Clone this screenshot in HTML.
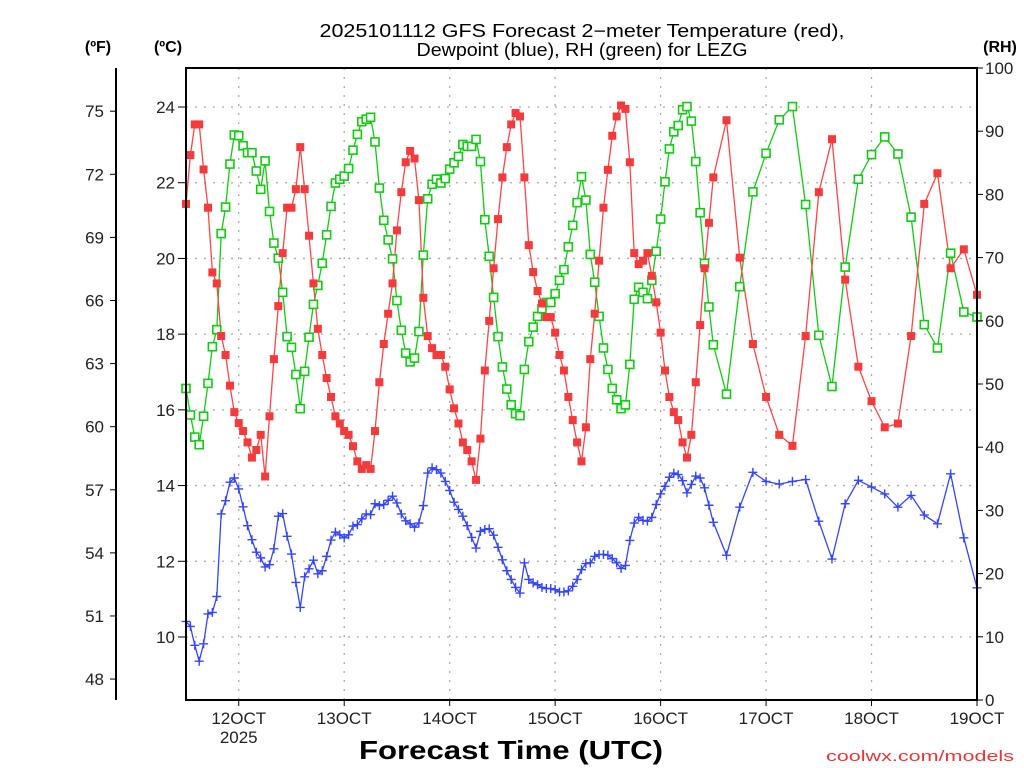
<!DOCTYPE html>
<html><head><meta charset="utf-8"><style>
html,body{margin:0;padding:0;background:#fff;}
svg{display:block;font-family:"Liberation Sans",sans-serif;}
</style></head><body>
<svg id="chart" width="1024" height="768" viewBox="0 0 1024 768" xmlns="http://www.w3.org/2000/svg">
<text x="582" y="37" font-size="18" text-anchor="middle" textLength="525" lengthAdjust="spacingAndGlyphs">2025101112 GFS Forecast 2−meter Temperature (red),</text>
<text x="582" y="56" font-size="18" text-anchor="middle" textLength="331" lengthAdjust="spacingAndGlyphs">Dewpoint (blue), RH (green) for LEZG</text>
<text x="98" y="52" font-size="16" font-weight="bold" text-anchor="middle">(ºF)</text>
<text x="168" y="52" font-size="16" font-weight="bold" text-anchor="middle">(ºC)</text>
<text x="1000" y="52" font-size="16" font-weight="bold" text-anchor="middle">(RH)</text>
<text x="511" y="759" font-size="26" font-weight="bold" text-anchor="middle" textLength="304" lengthAdjust="spacingAndGlyphs">Forecast Time (UTC)</text>
<text x="1014" y="761" font-size="15" fill="#ee3333" text-anchor="end" textLength="188" lengthAdjust="spacingAndGlyphs">coolwx.com/models</text>
<g id="grid"></g>
<g id="series"></g>
<g id="axes"></g>
</svg>
<script>
// hours since model start: hourly 0..120, then 3-hourly to 180
const hours = [];
for (let h = 0; h <= 120; h++) hours.push(h);
for (let h = 123; h <= 180; h += 3) hours.push(h);

const temperatureC = [21.44,22.73,23.54,23.54,22.35,21.34,19.63,19.34,17.95,17.45,16.64,15.94,15.65,15.44,15.14,14.74,14.94,15.34,14.24,15.83,17.34,18.74,20.14,21.34,21.34,21.83,22.94,21.83,20.60,19.34,18.14,17.45,16.84,16.34,15.83,15.64,15.44,15.34,15.04,14.64,14.44,14.54,14.44,15.44,16.73,17.74,18.54,19.34,20.74,21.75,22.54,22.84,22.64,21.54,18.96,17.95,17.63,17.45,17.45,17.14,16.54,16.04,
15.64,15.14,14.94,14.64,14.15,15.24,17.04,18.35,19.74,21.04,22.14,22.94,23.54,23.84,23.75,22.14,20.35,19.64,19.14,18.81,18.45,18.45,18.04,17.45,17.04,16.34,15.73,15.14,14.64,15.54,17.34,18.54,19.94,21.34,22.34,23.24,23.75,24.04,23.95,22.54,20.14,19.85,19.94,20.14,19.54,18.84,18.04,17.04,16.34,15.94,15.73,15.14,14.74,15.34,16.73,18.24,19.74,20.94,
22.14,23.65,20.02,17.74,16.34,15.34,15.05,17.95,21.75,23.15,19.44,17.14,16.23,15.54,15.64,17.95,21.44,22.25,19.74,20.24,19.04];

const dewpointC = [10.41,10.28,9.78,9.36,9.82,10.61,10.65,11.07,13.25,13.60,14.09,14.20,13.91,13.44,12.94,12.57,12.24,12.09,11.85,11.91,12.33,13.19,13.26,12.66,12.19,11.44,10.78,11.59,11.80,12.03,11.67,11.75,12.13,12.56,12.77,12.70,12.62,12.70,12.93,12.97,13.12,13.25,13.23,13.52,13.47,13.50,13.61,13.72,13.54,13.25,13.07,12.99,12.90,13.01,13.47,14.33,14.47,14.42,14.33,14.11,13.87,13.56,
13.37,13.19,12.94,12.63,12.35,12.79,12.84,12.86,12.69,12.37,12.04,11.75,11.52,11.31,11.16,11.96,11.52,11.43,11.38,11.31,11.28,11.28,11.25,11.19,11.19,11.22,11.34,11.52,11.78,11.94,11.96,12.13,12.18,12.18,12.16,12.07,11.96,11.81,11.89,12.55,13.01,13.16,13.08,13.06,13.16,13.50,13.78,13.98,14.22,14.33,14.29,14.13,13.81,14.03,14.25,14.20,13.94,13.48,
13.03,12.16,13.43,14.35,14.11,14.04,14.11,14.16,13.06,12.06,13.52,14.14,13.96,13.78,13.43,13.74,13.22,12.99,14.31,12.62,11.30];

const relHumidity = [49.3,45.1,41.6,40.4,44.9,50.1,55.9,58.6,73.8,78.0,84.8,89.4,89.3,87.7,86.6,86.6,83.7,80.8,85.3,77.3,72.3,69.9,64.5,57.5,55.8,51.5,46.1,52.0,57.4,62.6,65.6,69.1,73.6,78.1,81.8,82.4,82.9,84.1,87.0,89.5,91.5,91.9,92.2,88.3,81.0,75.9,72.8,69.8,63.2,58.5,54.9,53.5,54.1,58.3,70.4,79.3,81.6,82.4,81.8,82.5,84.0,85.0,
86.0,87.9,87.6,87.6,88.7,85.2,76.0,70.2,63.7,57.5,52.7,49.2,46.7,45.3,45.0,52.3,56.7,59.0,60.7,61.9,62.9,62.9,64.3,66.4,68.1,71.7,75.1,78.7,82.8,79.1,70.5,66.1,60.7,55.7,52.3,49.3,47.5,46.1,46.7,53.1,63.4,65.3,64.5,63.5,66.4,71.0,76.1,82.0,87.2,89.9,90.9,93.4,93.9,91.6,85.2,77.1,69.1,62.2,
56.2,48.4,65.4,80.4,86.5,91.8,93.9,78.4,57.7,49.6,68.5,82.4,86.3,89.1,86.4,76.4,59.4,55.7,70.7,61.4,60.6];

const celsiusTicks = [10,12,14,16,18,20,22,24];
const fahrenheitTicks = [48,51,54,57,60,63,66,69,72,75];
const rhTicks = [0,10,20,30,40,50,60,70,80,90,100];
const dayHours = [12,36,60,84,108,132,156,180];
const dayLabels = ["12OCT","13OCT","14OCT","15OCT","16OCT","17OCT","18OCT","19OCT"];

const NS = "http://www.w3.org/2000/svg";
const L = 186, R = 977, T = 68, B = 700;
const xS = h => L + h * (R - L) / 180;
const cS = c => 107 + (24 - c) * (637 - 107) / 14;
const fS = f => cS((f - 32) / 1.8);
const rS = r => B - r * (B - T) / 100;

function mk(tag, attrs, parent) {
  const e = document.createElementNS(NS, tag);
  for (const k in attrs) e.setAttribute(k, attrs[k]);
  parent.appendChild(e);
  return e;
}
const grid = document.getElementById('grid');
const axes = document.getElementById('axes');
const series = document.getElementById('series');

// gridlines
celsiusTicks.forEach(c => {
  const g = mk('line', {x1: L, x2: R, y1: cS(c), y2: cS(c), stroke: '#aaa', 'stroke-width': 1.3, 'stroke-dasharray': '2,7'}, grid);
  
  
});
dayHours.forEach(h => {
  const g = mk('line', {x1: xS(h), x2: xS(h), y1: T, y2: B, stroke: '#aaa', 'stroke-width': 1.3, 'stroke-dasharray': '2,7'}, grid);
  
  
});

// frame
const frame = mk('rect', {x: L, y: T, width: R - L, height: B - T, fill: 'none', stroke: '#000', 'stroke-width': 2}, axes);


const fAxis = mk('line', {x1: 116, x2: 116, y1: T, y2: B, stroke: '#000', 'stroke-width': 2}, axes);



celsiusTicks.forEach(c => {
  const y = cS(c);
  mk('line', {x1: L - 8, x2: L, y1: y, y2: y, stroke: '#000', 'stroke-width': 1}, axes);
  const t = mk('text', {x: 175, y: y + 6, 'font-size': 17, 'text-anchor': 'end', fill: '#222'}, axes);
  t.textContent = c;
  
  
});
fahrenheitTicks.forEach(f => {
  const y = fS(f);
  mk('line', {x1: 110, x2: 116, y1: y, y2: y, stroke: '#000', 'stroke-width': 1}, axes);
  const t = mk('text', {x: 104, y: y + 6, 'font-size': 17, 'text-anchor': 'end', fill: '#222'}, axes);
  t.textContent = f;
  
  
});
rhTicks.forEach(r => {
  const y = rS(r);
  mk('line', {x1: R, x2: R + 6, y1: y, y2: y, stroke: '#000', 'stroke-width': 1}, axes);
  const t = mk('text', {x: 985, y: y + 6, 'font-size': 17, 'text-anchor': 'start', fill: '#222'}, axes);
  t.textContent = r;
  
  
});
dayHours.forEach((h, i) => {
  const x = xS(h);
  mk('line', {x1: x, x2: x, y1: B, y2: B + 6, stroke: '#000', 'stroke-width': 1}, axes);
  const t = mk('text', {x: x, y: 724, 'font-size': 17, 'text-anchor': 'middle', fill: '#222'}, axes);
  t.textContent = dayLabels[i];
  
  
});
const yr = mk('text', {x: xS(12), y: 743, 'font-size': 17, 'text-anchor': 'middle', fill: '#222'}, axes);
yr.textContent = '2025';



function drawLine(vals, scale, color, name) {
  const pts = vals.map((v, i) => xS(hours[i]).toFixed(1) + ',' + scale(v).toFixed(1)).join(' ');
  const p = mk('polyline', {points: pts, fill: 'none', stroke: color, 'stroke-width': 1.3}, series);
  
  
}
drawLine(relHumidity, rS, '#11cc11', 'rh-line');
drawLine(temperatureC, cS, '#ff4444', 'temperature-line');
drawLine(dewpointC, cS, '#3344ff', 'dewpoint-line');

relHumidity.forEach((v, i) => {
  const x = xS(hours[i]), y = rS(v);
  const m = mk('rect', {x: x - 4, y: y - 4, width: 8, height: 8, fill: '#fff', stroke: '#11cc11', 'stroke-width': 1.6}, series);
  
  
});
temperatureC.forEach((v, i) => {
  const x = xS(hours[i]), y = cS(v);
  const m = mk('rect', {x: x - 4, y: y - 4, width: 8, height: 8, fill: '#f43a3a'}, series);
  
  
});
dewpointC.forEach((v, i) => {
  const x = xS(hours[i]), y = cS(v);
  const m = mk('path', {d: `M${x-4.5},${y}h9M${x},${y-4.5}v9`, stroke: '#3344ff', 'stroke-width': 1.4, fill: 'none'}, series);
  
  
});
</script>
</body></html>
